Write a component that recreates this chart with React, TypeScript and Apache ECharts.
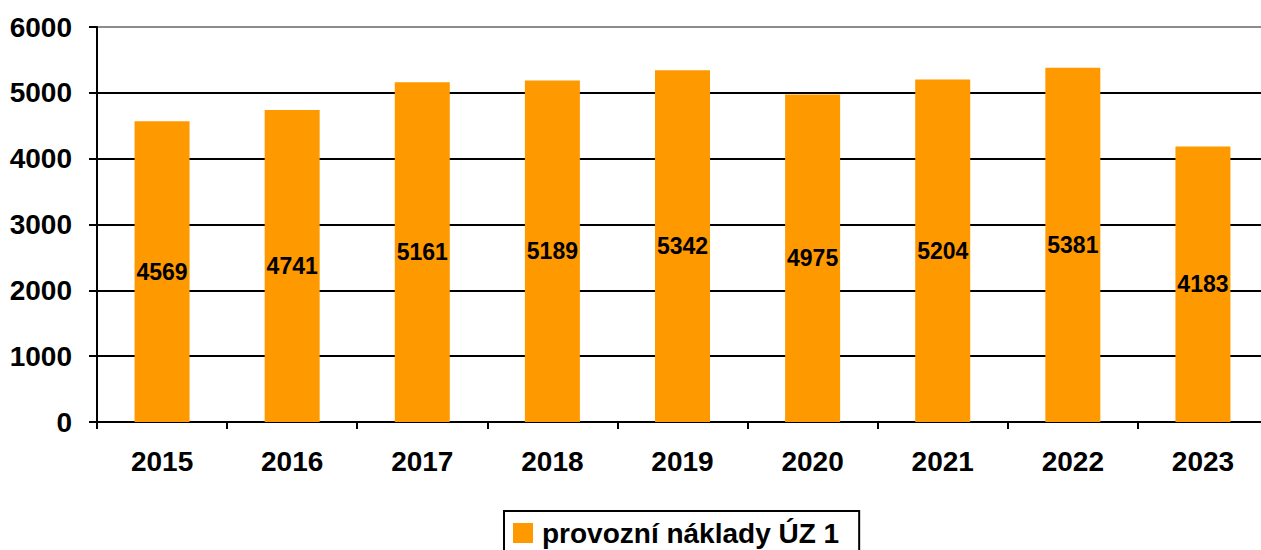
import React, { useEffect, useRef } from "react";
import * as echarts from "echarts";

const categories = ["2015", "2016", "2017", "2018", "2019", "2020", "2021", "2022", "2023"];
const values = [4569, 4741, 5161, 5189, 5342, 4975, 5204, 5381, 4183];
const seriesName = "provozní náklady ÚZ 1";

export default function App() {
  const ref = useRef<HTMLDivElement>(null);
  useEffect(() => {
    const chart = echarts.init(ref.current!, null, { renderer: "svg" });
    const font = "'Liberation Sans', Arial, sans-serif";
    chart.setOption({
      animation: false,
      textStyle: { fontFamily: font },
      grid: { left: 97, top: 27, width: 1171, height: 395, containLabel: false, outerBoundsMode: "none" },
      legend: {
        left: 504,
        top: 511,
        data: [seriesName],
        icon: "rect",
        itemWidth: 20,
        itemHeight: 20,
        padding: [8, 20, 8, 9],
        borderColor: "#000",
        borderWidth: 2,
        textStyle: { fontSize: 28, fontWeight: "bold", color: "#000", fontFamily: font, padding: [0, 0, 0, 4] },
      },
      xAxis: {
        type: "category",
        data: categories,
        axisLine: { lineStyle: { color: "#000", width: 2 } },
        axisTick: { show: true, length: 7, lineStyle: { color: "#000", width: 2 } },
        axisLabel: { fontSize: 28, fontWeight: "bold", color: "#000", margin: 25, fontFamily: font },
      },
      yAxis: {
        type: "value",
        min: 0,
        max: 6000,
        interval: 1000,
        axisLine: { show: true, lineStyle: { color: "#000", width: 2 } },
        axisTick: { show: true, length: 8, lineStyle: { color: "#000", width: 2 } },
        axisLabel: {
          fontSize: 28,
          fontWeight: "bold",
          color: "#000",
          margin: 25,
          fontFamily: font,
          formatter: (v: number) => String(v),
        },
        splitLine: {
          show: true,
          lineStyle: { color: ["#000", "#000", "#000", "#000", "#000", "#000", "#8c8c8c"], width: 2 },
        },
      },
      series: [
        {
          name: seriesName,
          type: "bar",
          data: values,
          barWidth: 55,
          itemStyle: { color: "#FF9900" },
          label: {
            show: true,
            position: "inside",
            fontSize: 23,
            fontWeight: "bold",
            color: "#000",
            fontFamily: font,
          },
        },
      ],
    });
    return () => chart.dispose();
  }, []);
  return (
    <div
      ref={ref}
      style={{ position: "fixed", left: 0, top: 0, width: 1261, height: 550, background: "#fff" }}
    />
  );
}
